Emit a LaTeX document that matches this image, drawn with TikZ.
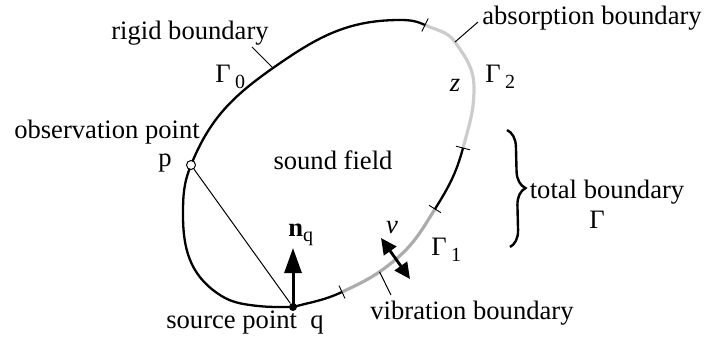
\documentclass[tikz,border=0pt]{standalone}
\usepackage{fontspec}
\setmainfont{Liberation Serif}
\usetikzlibrary{arrows.meta, calc, decorations.pathreplacing}
\newcommand{\lowsub}[1]{\raisebox{-0.45ex}{\fontsize{10}{12}\selectfont #1}}

\begin{document}
\begin{tikzpicture}[
	x=0.5pt, y=0.5pt,
	every node/.style={font=\fontsize{13.3}{16}\selectfont, inner sep=0pt},
	rim/.style={line width=1.15pt},
	absorb/.style={line width=1.6pt, draw=gray!40},
	vibr/.style={line width=1.6pt, draw=gray!65},
	tickline/.style={line width=0.45pt},
	thinline/.style={line width=0.5pt},
	dot/.style={circle, fill=black, minimum size=4pt},
	odot/.style={circle, draw=black, fill=white, line width=0.5pt, minimum size=4.5pt},
	>=Stealth
	]
	\useasboundingbox (0,0) rectangle (707,345);
	% points on the boundary
	\coordinate (q)   at (293,38);
	\coordinate (A)   at (342,53);
	\coordinate (nu)  at (395,85);
	\coordinate (B)   at (435,136);
	\coordinate (C)   at (463,197);
	\coordinate (r)   at (474,257);
	\coordinate (al)  at (455,303);
	\coordinate (D)   at (425,320);
	\coordinate (top) at (400,325);
	\coordinate (g0)  at (273,277);
	\coordinate (p)   at (191,180);
	\coordinate (lm)  at (183,130);
	\coordinate (bl)  at (217,52);
	\coordinate (bm)  at (250,40);
	
	% boundary
	\draw[rim] (q) to[out=15,in=205] (A);
	\draw[vibr] (A) to[out=25,in=220] coordinate[pos=0.7] (vl) (nu) to[out=40,in=238] (B);
	\draw[rim] (B) to[out=58,in=255] (C);
	\draw[absorb] (C) to[out=75,in=270] (r) to[out=90,in=305] (al) to[out=125,in=335] (D);
	\draw[rim] (D) to[out=155,in=0] (top) to[out=180,in=35] (g0) to[out=215,in=68] (p)
		to[out=248,in=90] (lm) to[out=270,in=145] (bl) to[out=325,in=172] (bm) to[out=352,in=180] (q);
	
	% ticks
	\draw[tickline] ($(A)+(-3,6.5)$) -- ($(A)+(3,-6.5)$);
	\draw[tickline] ($(B)+(-6,3.7)$) -- ($(B)+(6,-3.7)$);
	\draw[tickline] ($(C)+(-7,1.8)$) -- ($(C)+(7,-1.8)$);
	\draw[tickline] ($(D)+(3.2,6.5)$) -- ($(D)+(-3.2,-6.5)$);
	
	\node[odot] (pd) at (p) {};
	\node[dot] (qd) at (q) {};
	\draw[thinline] (pd) -- (qd);
	
	% normal and velocity
	\coordinate (ntip) at (293,97);
	\draw[-{Triangle[length=12.5pt, width=8.5pt]}, line width=1.5pt] (qd.center) -- (ntip);
	\draw[{Triangle[length=8pt, width=7.5pt]}-{Triangle[length=8pt, width=7.5pt]}, line width=1.4pt]
		($(nu)+(-14,22)$) -- ($(nu)+(15,-19)$);
	
	% labels
	\node (rigid) at (190,312) {rigid boundary};
	\node[anchor=west] (gam0) at (215,268) {Γ\,\lowsub{0}};
	\node (obs) at (107,213) {observation point};
	\node (plab) at (165,182) {p};
	\node (field) at (333,185) {sound field};
	\node (absl) at (592,327) {absorption boundary};
	\node[anchor=west] (gam2) at (485,268) {Γ\,\lowsub{2}};
	\node (zlab) at (455,260) {\textit{z}};
	\node (total) at (607,153) {total boundary};
	\node (gam) at (597,125) {Γ};
	\node (nulab) at (392,117) {\textit{ν}};
	\node[anchor=west] (gam1) at (431,95) {Γ\,\lowsub{1}};
	\node[anchor=west] (nlab) at (288,110) {\textbf{n}\lowsub{q}};
	\node (vlab) at (472,32) {vibration boundary};
	\node (src) at (245,22) {source point~~q};
	
	% leaders
	\coordinate (rl) at (252,298);
	\coordinate (ab) at (478,323);
	\coordinate (vb) at (391,50);
	\draw[thinline] (rl) -- (g0);
	\draw[thinline] (ab) -- (al);
	\draw[thinline] (vb) -- (vl);
	
	% brace
	\coordinate (bt) at (507,215);
	\coordinate (bb) at (510,98);
	\draw[decorate, decoration={brace, amplitude=8.5pt}, line width=1.2pt] (bt) -- (bb);
\end{tikzpicture}
\end{document}
